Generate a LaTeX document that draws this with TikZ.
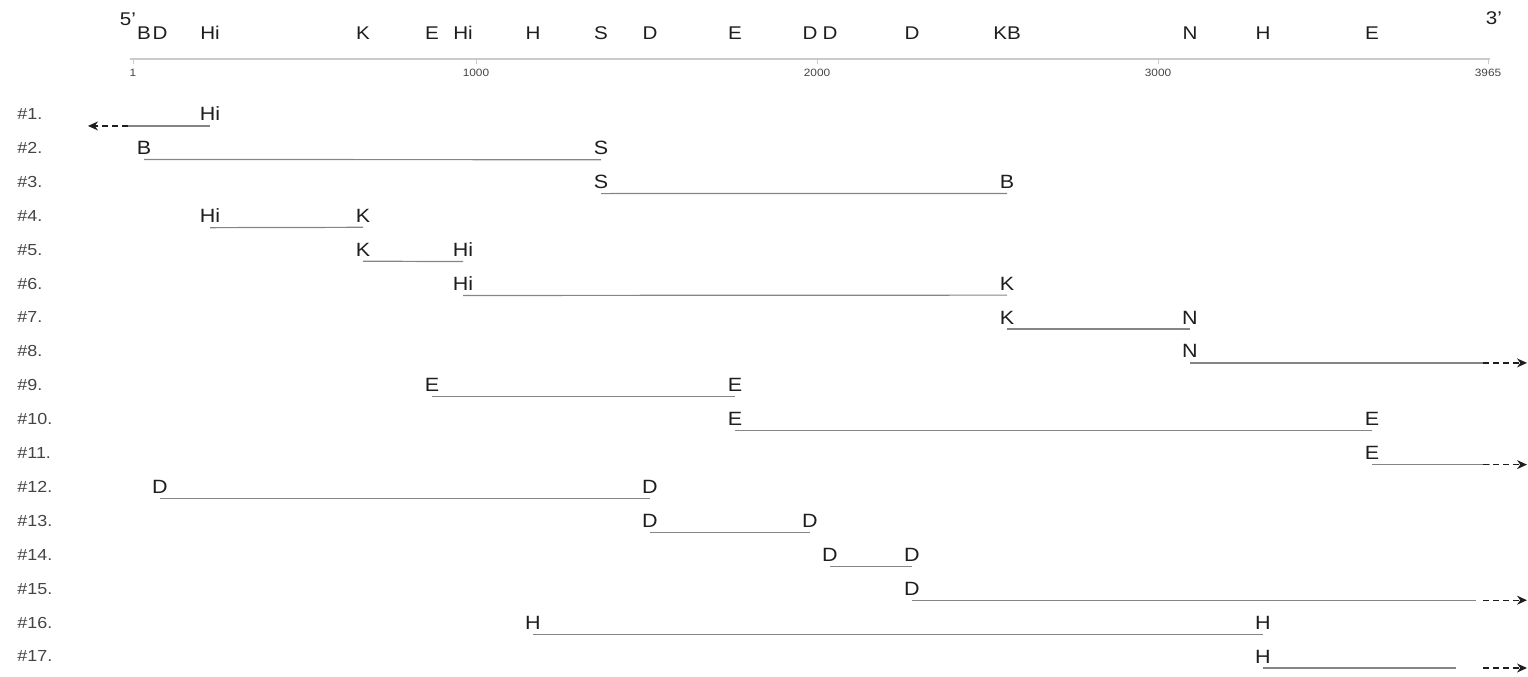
\documentclass[tikz,border=0pt]{standalone}
\usepackage{fontspec}
\setmainfont{Liberation Sans}[FakeStretch=1.12]
\usetikzlibrary{arrows.meta}
\definecolor{Ink}{HTML}{1E1E1E}
\definecolor{Mute}{HTML}{444444}
\definecolor{Frag}{HTML}{858585}
\definecolor{Bar}{HTML}{CACACA}

\begin{document}
\begin{tikzpicture}[x=0.5pt,y=-0.5pt,
  site/.style={font=\fontsize{9.2}{10}\selectfont,Ink,inner sep=0pt},
  tag/.style={font=\fontsize{9.6}{10}\selectfont,Ink,inner xsep=0pt,inner ysep=2.3pt},
  rowlab/.style={font=\fontsize{8}{10}\selectfont,Mute,inner sep=0pt,anchor=west},
  ticklab/.style={font=\fontsize{5.3}{6}\selectfont,Mute,inner sep=0pt},
  frag/.style={Frag,line width=0.6pt},
  open/.style={Ink,line width=0.6pt,dash pattern=on 3pt off 2pt,-{Stealth[length=5pt,width=4.5pt]}}]
  \useasboundingbox (0,0) rectangle (1528,676);
  % scale bar
  \draw[Bar,line width=1.2pt] (130,59) -- (1490,59);
  \foreach \x/\t in {133/1,476/1000,817/2000,1158/3000,1488/3965} {
    \draw[Bar,line width=0.5pt] (\x,59) -- (\x,64);
    \node[ticklab] (t\t) at (\x,73) {\t};
  }
  \node[site] (end5) at (128,19) {5'};
  \node[site] (end3) at (1494,18) {3'};
  % sites
  \foreach \nm/\x/\lab in {sB/144/B,sD1/160/D,sHi1/210/Hi,sK/363/K,sE1/432/E,
    sHi2/463/Hi,sH1/533/H,sS/601/S,sD2/650/D,sE2/735/E,sD3/810/D,sD4/830/D,
    sD5/912/D,sKB/1007/KB,sN/1190/N,sH2/1263/H,sE3/1372/E}
    \node[site] (\nm) at (\x,33) {\lab};
  % rows
  \foreach \i in {1,...,17}
    \node[rowlab] (r\i) at (17,{114+(\i-1)*33.9}) {\#\i.};
  % fragments
  \foreach \i/\a/\la/\b/\lb in {2/sB/B/sS/S,3/sS/S/sKB/B,4/sHi1/Hi/sK/K,
    5/sK/K/sHi2/Hi,6/sHi2/Hi/sKB/K,7/sKB/K/sN/N,9/sE1/E/sE2/E,10/sE2/E/sE3/E,
    12/sD1/D/sD2/D,13/sD2/D/sD3/D,14/sD4/D/sD5/D,16/sH1/H/sH2/H} {
    \node[tag] (fa\i) at (\a |- r\i) {\la};
    \node[tag] (fb\i) at (\b |- r\i) {\lb};
    \draw[frag] (fa\i.south) -- (fb\i.south);
  }
  % open ends
  \node[tag] (fa1) at (sHi1 |- r1) {Hi};
  \coordinate (fk1) at (fa1.south -| 128,0);
  \coordinate (fe1) at (fa1.south -| 88,0);
  \draw[frag] (fa1.south) -- (fk1);
  \draw[open] (fk1) -- (fe1);
  \foreach \i/\a/\la/\e in {8/sN/N/1483,11/sE3/E/1490,15/sD5/D/1476,17/sH2/H/1456} {
    \node[tag] (fa\i) at (\a |- r\i) {\la};
    \coordinate (fs\i) at (fa\i.south -| \e,0);
    \coordinate (fk\i) at (fa\i.south -| 1483,0);
    \coordinate (fe\i) at (fa\i.south -| 1527,0);
    \draw[frag] (fa\i.south) -- (fs\i);
    \draw[open] (fk\i) -- (fe\i);
  }
\end{tikzpicture}
\end{document}
